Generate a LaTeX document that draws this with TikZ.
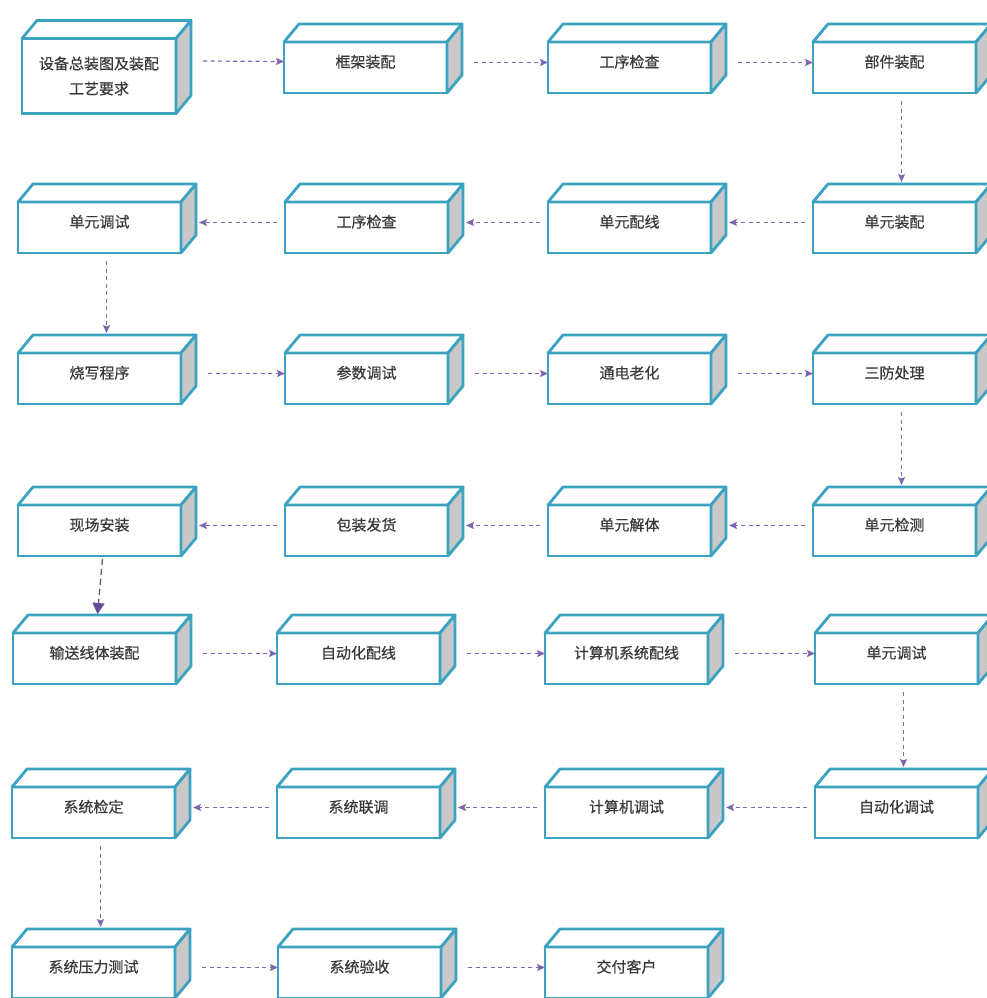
\documentclass[tikz,border=0pt]{standalone}
\usepackage{fontspec}
\newfontfamily\cjk[FakeBold=0.6]{Noto Sans CJK SC}
\usetikzlibrary{arrows.meta}
\definecolor{BoxTeal}{HTML}{3BA3C0}
\definecolor{SideGrey}{HTML}{C8C8C8}
\definecolor{FlowPurple}{HTML}{8064AE}
\definecolor{FlowDark}{HTML}{634A94}
\definecolor{DashGrey}{HTML}{5E5C72}
\definecolor{LabelGrey}{HTML}{3A3A3A}

\tikzset{
  boxbase/.style={rectangle, draw=BoxTeal, line width=2.8pt, fill=white, outer sep=0pt,
    text=LabelGrey, font=\cjk\fontsize{15}{25}\selectfont},
  stepbox/.style={boxbase, minimum width=163pt, minimum height=51pt, text height=11pt, text depth=11pt},
  face/.style={draw=BoxTeal, line width=2.8pt, line join=round},
  flow/.style={->, >={Stealth[length=8pt,width=7pt,inset=1.5pt]}, dash pattern=on 4pt off 3.5pt,
    line width=1.2pt, color=FlowPurple},
  bigflow/.style={-{Triangle[length=11pt,width=12pt,fill=FlowDark,color=FlowDark]},
    dash pattern=on 6pt off 4pt, line width=1.3pt, color=DashGrey},
}

\begin{document}
\begin{tikzpicture}[x=1pt, y=-1pt]
		\useasboundingbox (0,0) rectangle (987,998);
		\fill[white] (0,0) rectangle (987,998);
		\clip (0,0) rectangle (987,998);

		% front faces, row by row
		\node[boxbase, align=center, minimum width=154pt, minimum height=75pt] (s1) at (99,76) {设备总装图及装配\\工艺要求};
		\node[stepbox] (s2) at (365.5,67.5) {框架装配};
		\node[stepbox] (s3) at (629.5,67.5) {工序检查};
		\node[stepbox] (s4) at (894.5,67.5) {部件装配};

		\node[stepbox] (s5) at (894.5,227.5) {单元装配};
		\node[stepbox] (s6) at (629.5,227.5) {单元配线};
		\node[stepbox] (s7) at (366.5,227.5) {工序检查};
		\node[stepbox] (s8) at (99.5,227.5) {单元调试};

		\node[stepbox] (s9) at (99.5,378.5) {烧写程序};
		\node[stepbox] (s10) at (366.5,378.5) {参数调试};
		\node[stepbox] (s11) at (629.5,378.5) {通电老化};
		\node[stepbox] (s12) at (894.5,378.5) {三防处理};

		\node[stepbox] (s13) at (894.5,530.5) {单元检测};
		\node[stepbox] (s14) at (629.5,530.5) {单元解体};
		\node[stepbox] (s15) at (366.5,530.5) {包装发货};
		\node[stepbox] (s16) at (99.5,530.5) {现场安装};

		\node[stepbox] (s17) at (94.5,658.5) {输送线体装配};
		\node[stepbox] (s18) at (358.5,658.5) {自动化配线};
		\node[stepbox] (s19) at (626.5,658.5) {计算机系统配线};
		\node[stepbox] (s20) at (896.5,658.5) {单元调试};

		\node[stepbox] (s21) at (896.5,812.5) {自动化调试};
		\node[stepbox] (s22) at (626.5,812.5) {计算机调试};
		\node[stepbox] (s23) at (358.5,812.5) {系统联调};
		\node[stepbox] (s24) at (93.5,812.5) {系统检定};

		\node[stepbox] (s25) at (93.5,972.5) {系统压力测试};
		\node[stepbox] (s26) at (359.5,972.5) {系统验收};
		\node[stepbox] (s27) at (626.5,972.5) {交付客户};

		% top and side faces
		\foreach \i in {1,...,27} {
			\draw[face, fill=white] (s\i.north west) -- ++(15,-18) -- ([shift={(15,-18)}]s\i.north east) -- (s\i.north east) -- cycle;
			\draw[face, fill=SideGrey] (s\i.north east) -- ++(15,-18) -- ([shift={(15,-18)}]s\i.south east) -- (s\i.south east) -- cycle;
		}

		% left to right
		\draw[flow] ([xshift=27pt,yshift=15pt]s1.east) -- ([yshift=6pt]s2.west);
		\foreach \a/\b in {2/3,3/4,9/10,10/11,11/12,17/18,18/19,19/20,25/26,26/27}
			\draw[flow] ([xshift=27pt,yshift=5pt]s\a.east) -- ([yshift=5pt]s\b.west);

		% right to left
		\foreach \a/\b in {5/6,6/7,7/8,13/14,14/15,15/16,21/22,22/23,23/24}
			\draw[flow] ([xshift=-8pt,yshift=5pt]s\a.west) -- ([xshift=18pt,yshift=5pt]s\b.east);

		% down
		\foreach \a/\b in {4/5,8/9,12/13,20/21,24/25}
			\draw[flow] ([xshift=7pt,yshift=-8pt]s\a.south) -- ([xshift=7pt,yshift=20pt]s\b.north);
		\draw[bigflow] ([xshift=3pt,yshift=-3pt]s16.south) -- ([xshift=3pt,yshift=19pt]s17.north);
	\end{tikzpicture}
\end{document}
